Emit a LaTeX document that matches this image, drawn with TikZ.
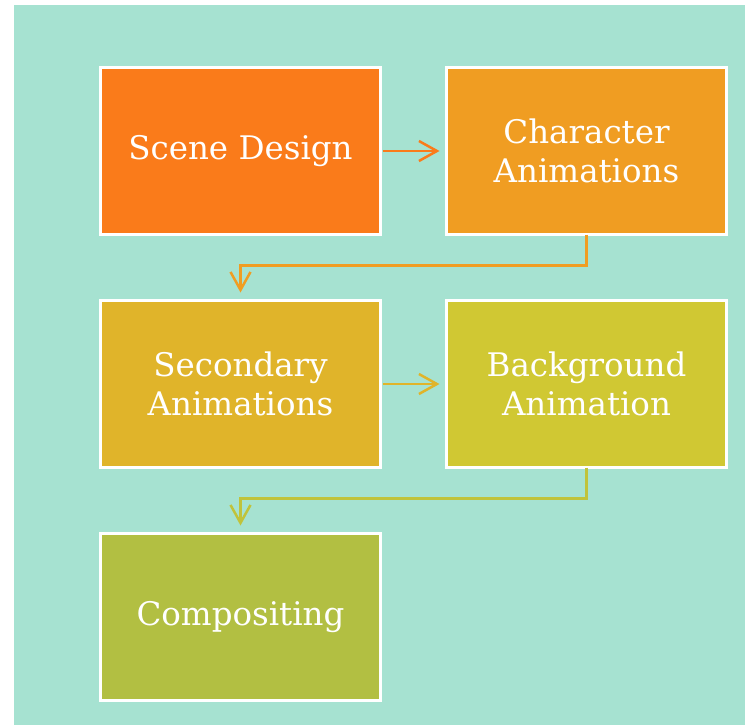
\documentclass[tikz,border=0pt]{standalone}
\usepackage{fontspec}
\setmainfont{DejaVu Serif}
\usetikzlibrary{arrows.meta}
\definecolor{bgc}{HTML}{A6E2D1}
\definecolor{c1}{HTML}{FA7B1A}
\definecolor{c2}{HTML}{F09D22}
\definecolor{c3}{HTML}{E0B42A}
\definecolor{c4}{HTML}{D0C833}
\definecolor{c5}{HTML}{B2BF42}
\begin{document}
\begin{tikzpicture}[x=1pt,y=-1pt,
  stepbox/.style={draw=white,line width=3pt,minimum width=280pt,minimum height=167pt,
    inner sep=0pt,outer sep=0pt,text=white,align=center,
    font=\fontsize{32.5}{39}\selectfont},
  conn/.style={line width=2.5pt,-{Straight Barb[length=18pt,width=20pt,line width=2.5pt]}}]
\useasboundingbox (0,0) rectangle (745,725);
\fill[bgc] (14,5) rectangle (745,725);
\node[stepbox,fill=c1] (b1) at (240.5,151) {Scene Design};
\node[stepbox,fill=c2] (b2) at (586.5,151) {Character\\Animations};
\node[stepbox,fill=c3] (b3) at (240.5,384) {Secondary\\Animations};
\node[stepbox,fill=c4] (b4) at (586.5,384) {Background\\Animation};
\node[stepbox,fill=c5] (b5) at (240.5,617) {Compositing};
\draw[conn,c1,shorten <=2pt,shorten >=7pt] (b1.east) -- (b2.west);
\draw[conn,c3,shorten <=2pt,shorten >=7pt] (b3.east) -- (b4.west);
\draw[conn,c2,shorten >=8pt] (b2.south) -- ++(0,31) -| (b3.north);
\draw[conn,c4!45!c5,shorten >=8pt] (b4.south) -- ++(0,31) -| (b5.north);
\end{tikzpicture}
\end{document}
